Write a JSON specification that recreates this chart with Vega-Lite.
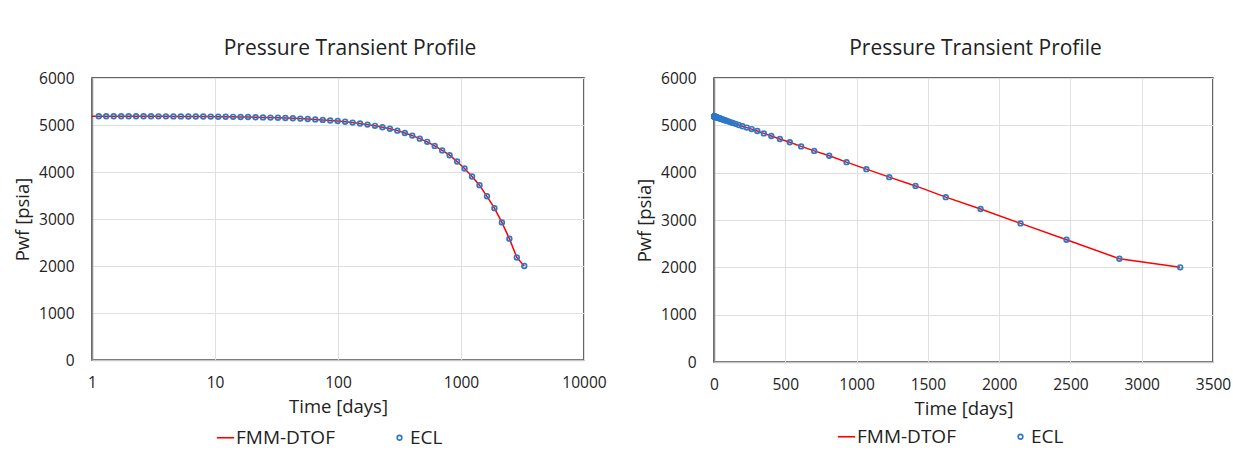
{
  "$schema": "https://vega.github.io/schema/vega-lite/v6.json",
  "padding": {"left": 12, "top": 37, "right": 5, "bottom": 5},
  "background": "white",
  "config": {
    "font": "Open Sans",
    "view": {"stroke": "#333333", "strokeWidth": 1.5},
    "axis": {"labelFont": "Open Sans", "labelFontSize": 15.5, "labelColor": "#222222", "titleFont": "Open Sans", "titleFontSize": 18.5, "titleFontWeight": "normal", "titleColor": "#222222", "gridColor": "#E0E0E0", "gridWidth": 1, "ticks": false, "domainWidth": 1.5, "labelFlush": false},
    "axisX": {"labelPadding": 15, "titlePadding": 7, "domainColor": "#C8C8C8"},
    "axisY": {"labelPadding": 18, "titlePadding": 6, "domainColor": "#8C8C8C"},
    "title": {"fontSize": 21, "fontWeight": "normal", "font": "Open Sans", "color": "#222222", "offset": 12},
    "legend": {"orient": "none", "direction": "horizontal", "labelFont": "Open Sans", "labelFontSize": 19, "labelColor": "#222222", "symbolSize": 300, "symbolStrokeWidth": 1.5, "labelOffset": 1, "columnPadding": 55, "padding": 0}
  },
  "data": {"values": [
    {"t": 1, "fmm": 5187, "ecl": null},
    {"t": 1.135, "fmm": 5187, "ecl": 5187},
    {"t": 1.305, "fmm": 5187, "ecl": 5187},
    {"t": 1.501, "fmm": 5186, "ecl": 5186},
    {"t": 1.726, "fmm": 5186, "ecl": 5186},
    {"t": 1.985, "fmm": 5186, "ecl": 5186},
    {"t": 2.282, "fmm": 5185, "ecl": 5185},
    {"t": 2.625, "fmm": 5185, "ecl": 5185},
    {"t": 3.018, "fmm": 5185, "ecl": 5185},
    {"t": 3.471, "fmm": 5184, "ecl": 5184},
    {"t": 3.992, "fmm": 5184, "ecl": 5184},
    {"t": 4.591, "fmm": 5183, "ecl": 5183},
    {"t": 5.279, "fmm": 5183, "ecl": 5183},
    {"t": 6.071, "fmm": 5182, "ecl": 5182},
    {"t": 6.982, "fmm": 5181, "ecl": 5181},
    {"t": 8.029, "fmm": 5180, "ecl": 5180},
    {"t": 9.233, "fmm": 5179, "ecl": 5179},
    {"t": 10.62, "fmm": 5177, "ecl": 5177},
    {"t": 12.21, "fmm": 5176, "ecl": 5176},
    {"t": 14.04, "fmm": 5174, "ecl": 5174},
    {"t": 16.15, "fmm": 5171, "ecl": 5171},
    {"t": 18.57, "fmm": 5169, "ecl": 5169},
    {"t": 21.36, "fmm": 5166, "ecl": 5166},
    {"t": 24.56, "fmm": 5162, "ecl": 5162},
    {"t": 28.24, "fmm": 5158, "ecl": 5158},
    {"t": 32.48, "fmm": 5154, "ecl": 5154},
    {"t": 37.35, "fmm": 5149, "ecl": 5149},
    {"t": 42.96, "fmm": 5143, "ecl": 5143},
    {"t": 49.4, "fmm": 5136, "ecl": 5136},
    {"t": 56.81, "fmm": 5128, "ecl": 5128},
    {"t": 65.33, "fmm": 5119, "ecl": 5119},
    {"t": 75.13, "fmm": 5109, "ecl": 5109},
    {"t": 86.4, "fmm": 5097, "ecl": 5097},
    {"t": 99.36, "fmm": 5084, "ecl": 5084},
    {"t": 114.3, "fmm": 5068, "ecl": 5068},
    {"t": 131.4, "fmm": 5051, "ecl": 5051},
    {"t": 151.1, "fmm": 5031, "ecl": 5031},
    {"t": 173.8, "fmm": 5008, "ecl": 5008},
    {"t": 199.8, "fmm": 4982, "ecl": 4982},
    {"t": 229.8, "fmm": 4952, "ecl": 4952},
    {"t": 264.3, "fmm": 4920, "ecl": 4920},
    {"t": 303.9, "fmm": 4880, "ecl": 4880},
    {"t": 349.5, "fmm": 4830, "ecl": 4830},
    {"t": 401.9, "fmm": 4774, "ecl": 4774},
    {"t": 462.2, "fmm": 4710, "ecl": 4710},
    {"t": 531.5, "fmm": 4642, "ecl": 4642},
    {"t": 611.2, "fmm": 4555, "ecl": 4555},
    {"t": 702.9, "fmm": 4460, "ecl": 4460},
    {"t": 808.3, "fmm": 4357, "ecl": 4357},
    {"t": 929.6, "fmm": 4222, "ecl": 4222},
    {"t": 1069, "fmm": 4074, "ecl": 4074},
    {"t": 1229.3, "fmm": 3905, "ecl": 3905},
    {"t": 1413.7, "fmm": 3720, "ecl": 3720},
    {"t": 1625.8, "fmm": 3483, "ecl": 3483},
    {"t": 1869.7, "fmm": 3231, "ecl": 3231},
    {"t": 2150.1, "fmm": 2928, "ecl": 2928},
    {"t": 2472.6, "fmm": 2582, "ecl": 2582},
    {"t": 2843.5, "fmm": 2182, "ecl": 2182},
    {"t": 3270, "fmm": 2000, "ecl": 2000}
  ]},
  "spacing": 27,
  "resolve": {"legend": {"color": "independent"}, "scale": {"color": "independent"}},
  "hconcat": [
    {
      "width": 492,
      "height": 282,
      "title": {"text": "Pressure Transient Profile", "dx": 12},
      "layer": [
        {
          "mark": {"type": "line", "strokeWidth": 1.5, "clip": true},
          "encoding": {
            "x": {"field": "t", "type": "quantitative", "scale": {"type": "log", "domain": [1, 10000]}, "axis": {"values": [1, 10, 100, 1000, 10000], "format": "d", "title": "Time [days]"}},
            "y": {"field": "fmm", "type": "quantitative", "scale": {"domain": [0, 6000]}, "axis": {"values": [0, 1000, 2000, 3000, 4000, 5000, 6000], "format": "d", "title": "Pwf [psia]"}},
            "color": {"datum": "FMM-DTOF", "scale": {"domain": ["FMM-DTOF", "ECL"], "range": ["#FF0000", "#2E78C7"]}, "legend": {"title": null, "legendX": 124, "legendY": 350, "encode": {"symbols": {"update": {"shape": {"signal": "datum.value === 'ECL' ? 'circle' : 'stroke'"}, "size": {"signal": "datum.value === 'ECL' ? 22 : 300"}, "fill": {"value": "transparent"}, "strokeWidth": {"value": 1.6}}}}}}
          }
        },
        {
          "mark": {"type": "point", "filled": false, "size": 22, "strokeWidth": 1.7, "opacity": 1},
          "encoding": {
            "x": {"field": "t", "type": "quantitative", "scale": {"type": "log", "domain": [1, 10000]}, "axis": {"values": [1, 10, 100, 1000, 10000], "format": "d", "title": "Time [days]"}},
            "y": {"field": "ecl", "type": "quantitative", "scale": {"domain": [0, 6000]}, "axis": {"values": [0, 1000, 2000, 3000, 4000, 5000, 6000], "format": "d", "title": "Pwf [psia]"}},
            "color": {"datum": "ECL"}
          }
        }
      ]
    },
    {
      "width": 499,
      "height": 284,
      "title": {"text": "Pressure Transient Profile", "dx": 12},
      "layer": [
        {
          "mark": {"type": "line", "strokeWidth": 1.5, "clip": true},
          "encoding": {
            "x": {"field": "t", "type": "quantitative", "scale": {"domain": [0, 3500]}, "axis": {"values": [0, 500, 1000, 1500, 2000, 2500, 3000, 3500], "format": "d", "title": "Time [days]"}},
            "y": {"field": "fmm", "type": "quantitative", "scale": {"domain": [0, 6000]}, "axis": {"values": [0, 1000, 2000, 3000, 4000, 5000, 6000], "format": "d", "title": "Pwf [psia]"}},
            "color": {"datum": "FMM-DTOF", "scale": {"domain": ["FMM-DTOF", "ECL"], "range": ["#FF0000", "#2E78C7"]}, "legend": {"title": null, "legendX": 123, "legendY": 349, "encode": {"symbols": {"update": {"shape": {"signal": "datum.value === 'ECL' ? 'circle' : 'stroke'"}, "size": {"signal": "datum.value === 'ECL' ? 22 : 300"}, "fill": {"value": "transparent"}, "strokeWidth": {"value": 1.6}}}}}}
          }
        },
        {
          "mark": {"type": "point", "filled": false, "size": 22, "strokeWidth": 1.7, "opacity": 1},
          "encoding": {
            "x": {"field": "t", "type": "quantitative", "scale": {"domain": [0, 3500]}, "axis": {"values": [0, 500, 1000, 1500, 2000, 2500, 3000, 3500], "format": "d", "title": "Time [days]"}},
            "y": {"field": "ecl", "type": "quantitative", "scale": {"domain": [0, 6000]}, "axis": {"values": [0, 1000, 2000, 3000, 4000, 5000, 6000], "format": "d", "title": "Pwf [psia]"}},
            "color": {"datum": "ECL"}
          }
        }
      ]
    }
  ]
}
